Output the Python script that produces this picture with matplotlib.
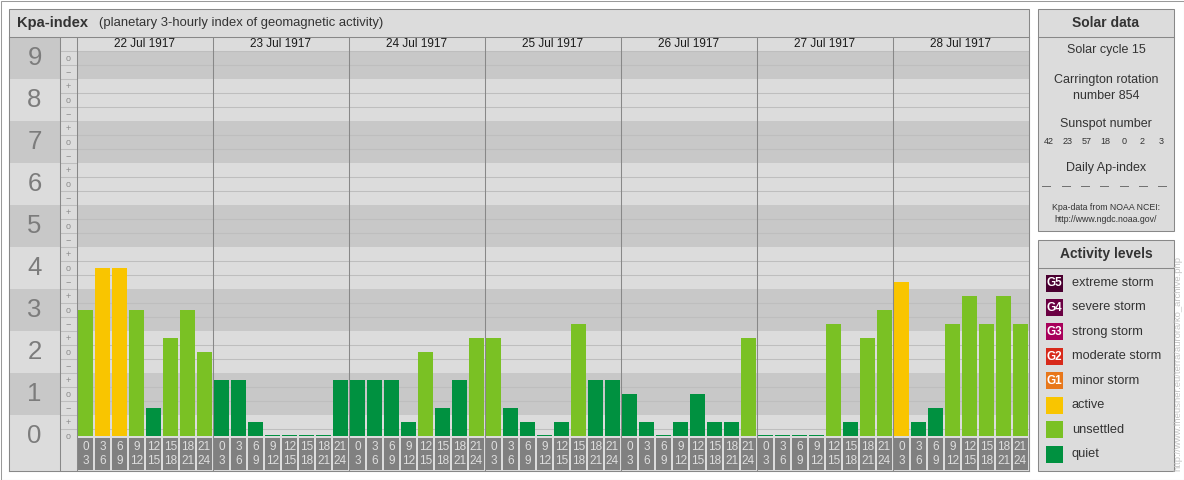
import numpy as np
import matplotlib
matplotlib.use("Agg")
import matplotlib.pyplot as plt
from matplotlib.patches import Rectangle

plt.rcParams['font.family'] = ['Liberation Sans', 'DejaVu Sans']

# ---- data -------------------------------------------------------------
days = ["22 Jul 1917", "23 Jul 1917", "24 Jul 1917", "25 Jul 1917",
        "26 Jul 1917", "27 Jul 1917", "28 Jul 1917"]

# Kp values per 3-hour interval (thirds: "-" = -1/3, "o" = 0, "+" = +1/3)
kp_22 = ["3o", "4o", "4o", "3o", "1-", "2+", "3o", "2o"]
kp_23 = ["1+", "1+", "0+", "0o", "0o", "0o", "0o", "1+"]
kp_24 = ["1+", "1+", "1+", "0+", "2o", "1-", "1+", "2+"]
kp_25 = ["2+", "1-", "0+", "0o", "0+", "3-", "1+", "1+"]
kp_26 = ["1o", "0+", "0o", "0+", "1o", "0+", "0+", "2+"]
kp_27 = ["0o", "0o", "0o", "0o", "3-", "0+", "2+", "3o"]
kp_28 = ["4-", "0+", "1-", "3-", "3+", "3-", "3+", "3-"]

hour_start = ["0", "3", "6", "9", "12", "15", "18", "21"]
hour_end = ["3", "6", "9", "12", "15", "18", "21", "24"]

solar_cycle = 15
carrington_rotation = 854
sunspot_numbers = [42, 23, 57, 18, 0, 2, 3]
daily_ap = ["\u2014"] * 7

level_names = ["extreme storm", "severe storm", "strong storm", "moderate storm",
               "minor storm", "active", "unsettled", "quiet"]
level_tags = ["G5", "G4", "G3", "G2", "G1", "", "", ""]
level_colors = ["#4a0030", "#6a0042", "#a8005a", "#d8291a",
                "#e8771a", "#f9c500", "#7ac124", "#009140"]

# ---- styling ------------------------------------------------------------
LIGHT = "#dcdcdc"
DARK = "#c8c8c8"
GRID = "#bebebe"
BORDER = "#888888"
TEXT = "#333333"
W, H = 1184, 480
LW = 0.75


def kp_value(code):
    return int(code[:-1]) + {"-": -1 / 3, "o": 0.0, "+": 1 / 3}[code[-1]]


def kp_color(v):
    if v >= 11 / 3 - 1e-6:
        return level_colors[5]
    if v >= 5 / 3 - 1e-6:
        return level_colors[6]
    return level_colors[7]


kp_codes = kp_22 + kp_23 + kp_24 + kp_25 + kp_26 + kp_27 + kp_28
kp = np.array([kp_value(c) for c in kp_codes])
n = len(kp)


def px_box(x0, y0, x1, y1):
    return [x0 / W, 1 - y1 / H, (x1 - x0) / W, (y1 - y0) / H]


fig = plt.figure(figsize=(W / 100, H / 100), dpi=100)
fig.patch.set_facecolor("white")

# overlay in pixel coordinates for frames and side panels
ov = fig.add_axes([0, 0, 1, 1], zorder=0)
ov.set_xlim(0, W)
ov.set_ylim(H, 0)
ov.axis("off")

ov.add_patch(Rectangle((0.5, 0.5), W - 1, H - 1, facecolor="white", edgecolor="#9a9a9a", lw=LW))
ov.add_patch(Rectangle((9, 9), 1020, 462, facecolor=LIGHT, edgecolor=BORDER, lw=LW))
ov.text(17, 23, "Kpa-index", fontsize=10.5, fontweight="bold", color=TEXT, va="center")
ov.text(99, 23, "(planetary 3-hourly index of geomagnetic activity)", fontsize=9.4,
        color=TEXT, va="center")

# solar data panel
ov.add_patch(Rectangle((1038, 9), 136, 222, facecolor=LIGHT, edgecolor=BORDER, lw=LW))
ov.plot([1038, 1174], [37, 37], color=BORDER, lw=LW)
cx = 1106
ov.text(cx, 23, "Solar data", fontsize=10, fontweight="bold", color=TEXT, ha="center", va="center")
ov.text(cx, 50, f"Solar cycle {solar_cycle}", fontsize=9, color=TEXT, ha="center", va="center")
ov.text(cx, 80, "Carrington rotation", fontsize=9, color=TEXT, ha="center", va="center")
ov.text(cx, 96, f"number {carrington_rotation}", fontsize=9, color=TEXT, ha="center", va="center")
ov.text(cx, 124, "Sunspot number", fontsize=9, color=TEXT, ha="center", va="center")
xs = np.linspace(1049, 1161, len(sunspot_numbers))
for x, s in zip(xs, sunspot_numbers):
    ov.text(x, 141, str(s), fontsize=6.5, color=TEXT, ha="center", va="center")
ov.text(cx, 168, "Daily Ap-index", fontsize=9, color=TEXT, ha="center", va="center")
xs = np.linspace(1047, 1163, len(daily_ap))
for x, s in zip(xs, daily_ap):
    ov.text(x, 187, s, fontsize=6.5, color=TEXT, ha="center", va="center")
ov.text(cx, 208, "Kpa-data from NOAA NCEI:", fontsize=6.3, color=TEXT, ha="center", va="center")
ov.text(cx, 219, "http://www.ngdc.noaa.gov/", fontsize=6.3, color=TEXT, ha="center", va="center")

# activity levels panel
ov.add_patch(Rectangle((1038, 240), 136, 231, facecolor=LIGHT, edgecolor=BORDER, lw=LW))
ov.plot([1038, 1174], [268, 268], color=BORDER, lw=LW)
ov.text(cx, 254, "Activity levels", fontsize=10, fontweight="bold", color=TEXT, ha="center", va="center")
row_y = np.linspace(283, 454, len(level_names))
for y, name, tag, col in zip(row_y, level_names, level_tags, level_colors):
    ov.add_patch(Rectangle((1046, y - 8.5), 17, 17, facecolor=col, edgecolor="none"))
    if tag:
        ov.text(1054.5, y + 0.5, tag, fontsize=8.5, fontweight="bold", color="white",
                ha="center", va="center")
    ov.text(1072, y, name, fontsize=9.2, color=TEXT, va="center")

ov.text(1178, 471, "http://www.fheusner.eu/terra/aurora/ko_archive.php", fontsize=6.8,
        color="#c4c4c4", rotation=90, ha="center", va="bottom")

# ---- main Kp chart ------------------------------------------------------
ax = fig.add_axes(px_box(9, 37, 1029, 471), zorder=1)
ax.set_facecolor("none")
ax.set_xlim(-4, n)
Y0, Y1 = -0.8333, 9.5
ax.set_ylim(Y0, Y1)
ax.set_xticks([])
ax.set_yticks([])
for sp in ax.spines.values():
    sp.set_color(BORDER)
    sp.set_linewidth(LW)

HEAD = 9 + 1 / 6
ax.add_patch(Rectangle((-1, Y0), 1, Y1 - Y0, facecolor=LIGHT, edgecolor="none", zorder=0))
ax.add_patch(Rectangle((0, Y0), n, -Y0, facecolor=LIGHT, edgecolor="none", zorder=0))
ax.add_patch(Rectangle((0, HEAD), n, Y1 - HEAD, facecolor=LIGHT, edgecolor="none", zorder=0))
for k in range(10):
    col = DARK if k % 2 else LIGHT
    lo, hi = k - 0.5, k + 0.5
    # plot area band
    ax.add_patch(Rectangle((0, max(lo, 0)), n, min(hi, HEAD) - max(lo, 0),
                           facecolor=col, edgecolor="none", zorder=0))
    # big number column band
    blo = Y0 if k == 0 else lo
    bhi = Y1 if k == 9 else hi
    ax.add_patch(Rectangle((-4, blo), 3, bhi - blo, facecolor=col, edgecolor="none", zorder=0))
    ax.text(-2.5, k, str(k), fontsize=18.5, color="#7c7c7c", ha="center", va="center")
    if k <= 8:
        ax.text(-0.5, k + 1 / 3, "+", fontsize=6.5, color="#8c8c8c", ha="center", va="center")
    ax.text(-0.5, k, "o", fontsize=6.5, color="#8c8c8c", ha="center", va="center")
    if k >= 1:
        ax.text(-0.5, k - 1 / 3, "\u2212", fontsize=6.5, color="#8c8c8c", ha="center", va="center")

for j in range(28):
    y = 1 / 6 + j / 3
    ax.hlines(y, -1, 0, color=GRID, lw=LW, zorder=1)
    if abs((y - 0.5) - round(y - 0.5)) > 1e-6:
        ax.hlines(y, 0, n, color=GRID, lw=LW, zorder=1)

# bars
x = np.arange(n) + 0.5
heights = np.maximum(kp, 0.03)
ax.bar(x, heights, width=0.88, color=[kp_color(v) for v in kp], zorder=3)

# hour boxes
for i in range(n):
    ax.add_patch(Rectangle((i + 0.06, -0.81), 0.88, 0.755, facecolor="#808080",
                           edgecolor="none", zorder=2))
    ax.text(i + 0.5, -0.27, hour_start[i % 8], fontsize=8.5, color="#dedede",
            ha="center", va="center", zorder=3)
    ax.text(i + 0.5, -0.60, hour_end[i % 8], fontsize=8.5, color="#dedede",
            ha="center", va="center", zorder=3)

# separators and day headers
ax.vlines([-1, 0] + [8 * d for d in range(1, len(days))], Y0, Y1, color=BORDER, lw=LW, zorder=4)
for d, name in enumerate(days):
    ax.text(8 * d + 4, (HEAD + Y1) / 2, name, fontsize=8.5, color="#1a1a1a",
            ha="center", va="center")

fig.savefig("out.png", dpi=100, facecolor="white")
